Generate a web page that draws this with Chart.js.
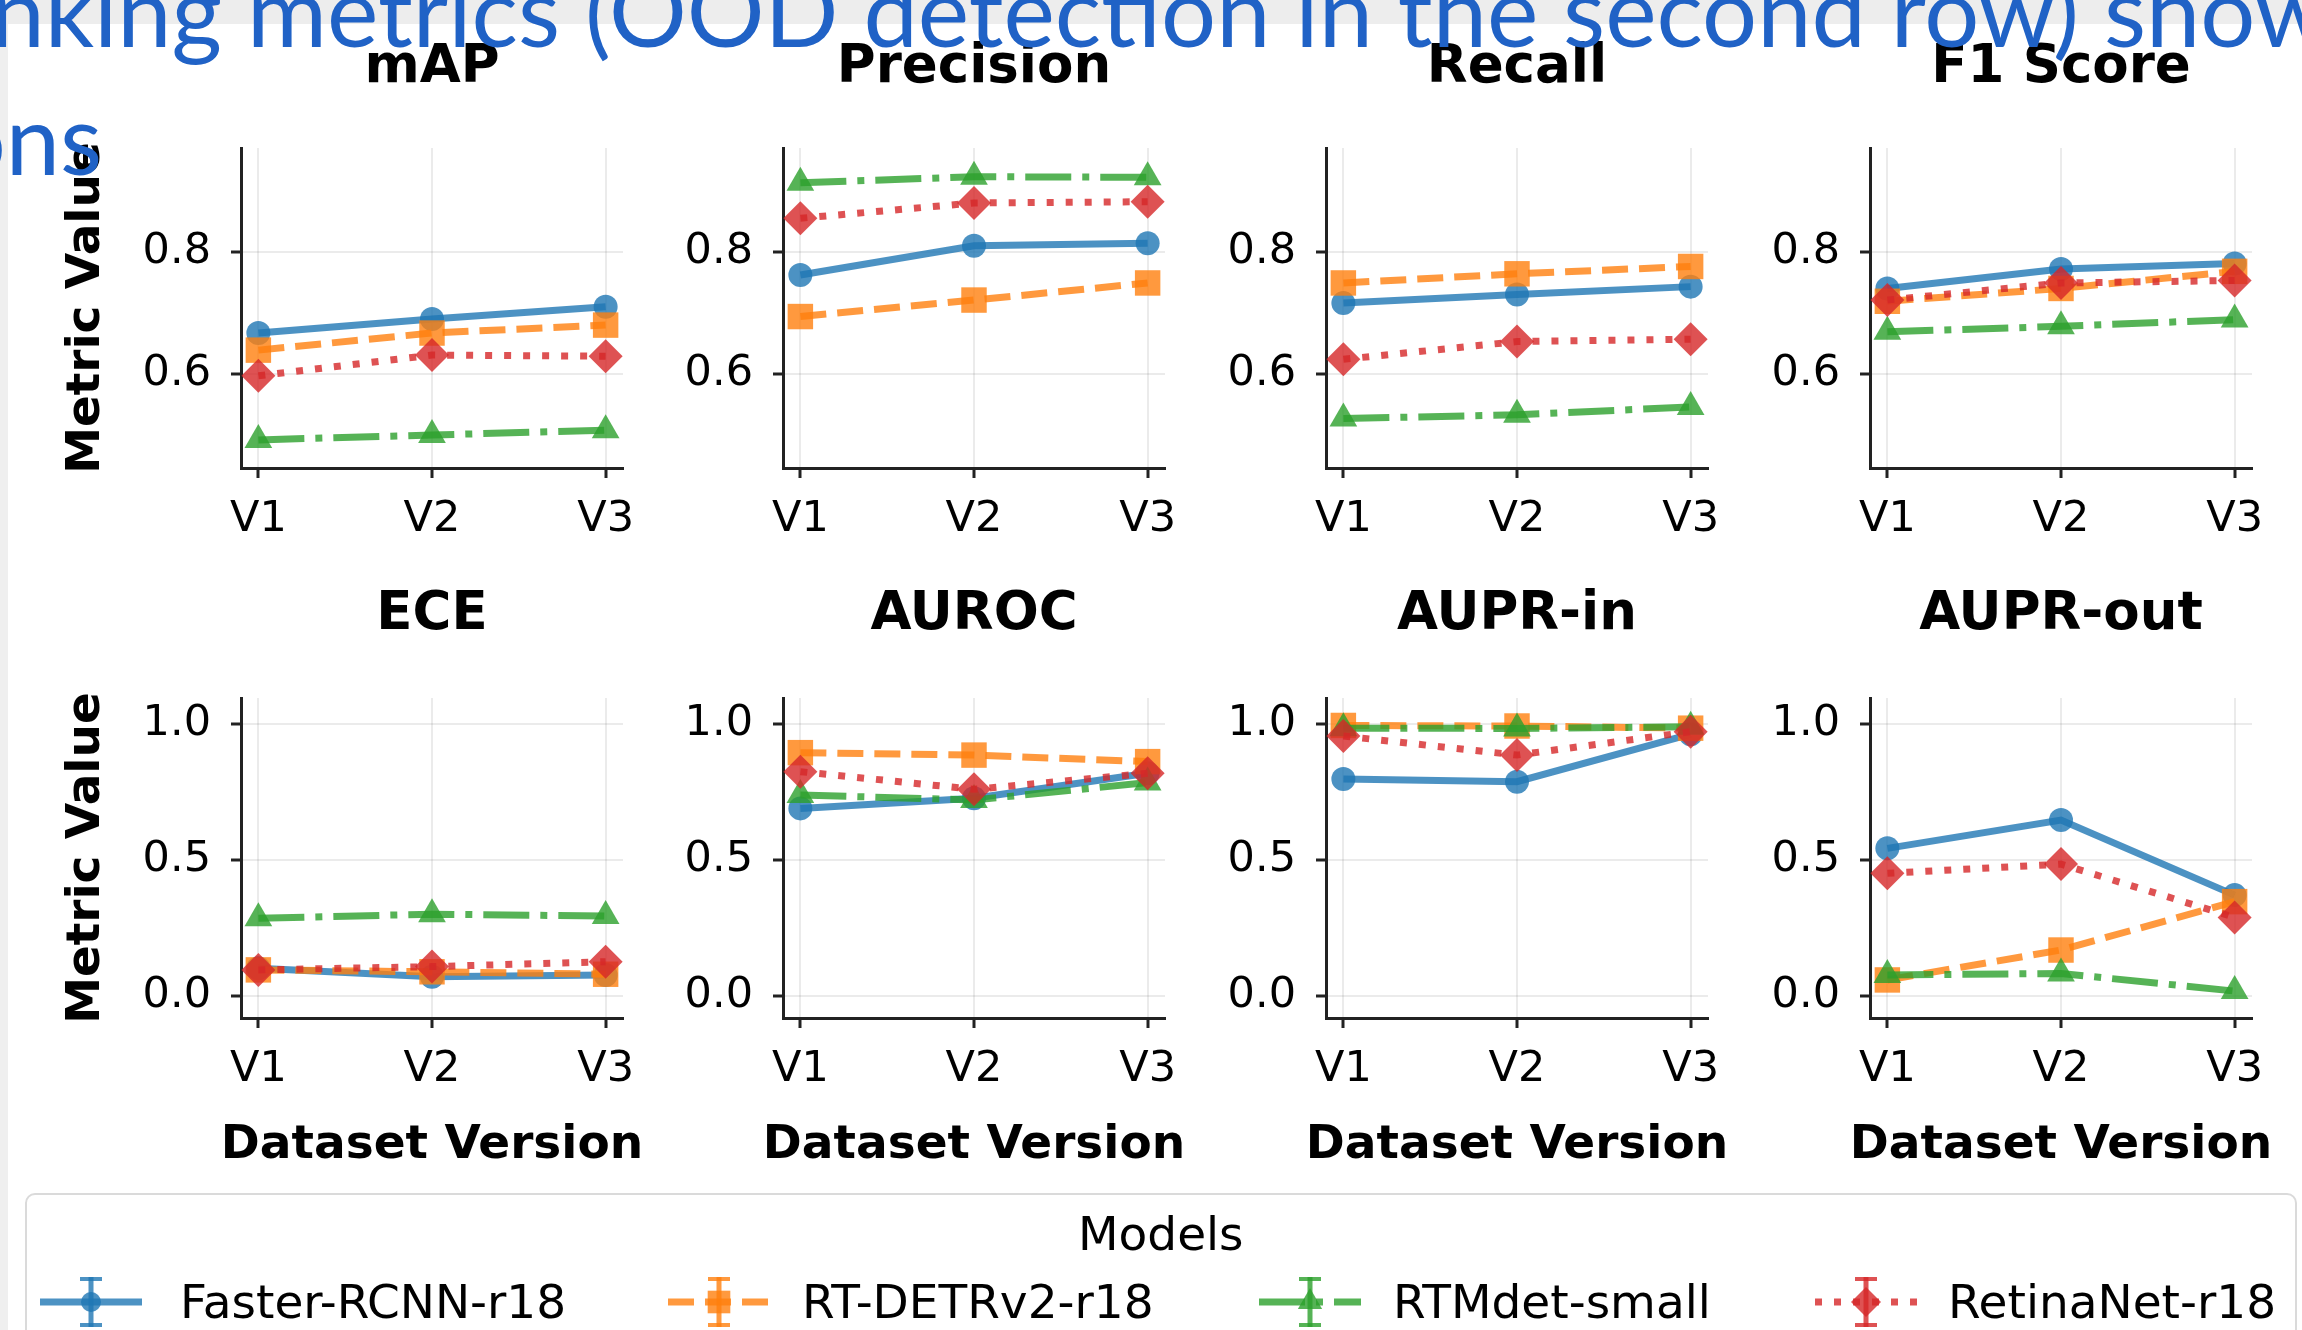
<!DOCTYPE html>
<html>
<head>
<meta charset="utf-8">
<script src="https://cdn.jsdelivr.net/npm/chart.js@4.4.0/dist/chart.umd.min.js"></script>
<style>
  html, body { margin: 0; padding: 0; background: #fff; }
  body { width: 2302px; height: 1330px; position: relative; overflow: hidden; }
  #band { position: absolute; left: 0; top: 0; width: 2302px; height: 24px; background: #ededed; }
  #strip { position: absolute; left: 0; top: 24px; width: 8px; height: 1306px; background: #efefef; }
  canvas.panel { position: absolute; }
  #legendBox { position: absolute; left: 25px; top: 1193px; width: 2272px; height: 200px;
               border: 2px solid #dadada; border-radius: 10px; box-sizing: border-box; background: #fff; }
  #legendCanvas { position: absolute; left: 0; top: 1180px; }
  .txt { position: absolute; white-space: pre; line-height: 1; }
  .slide { font-family: Lato, sans-serif; color: #2062c6; z-index: 10; }
  .leg { font-family: 'DejaVu Sans'; color: #000; z-index: 5; }
</style>
</head>
<body>
<div id="band"></div>
<div id="strip"></div>
<div id="legendBox"></div>
<canvas id="legendCanvas" width="2302" height="150"></canvas>
<script>
// ---- data ----
const versions = ['V1', 'V2', 'V3'];
const models = ['Faster-RCNN-r18', 'RT-DETRv2-r18', 'RTMdet-small', 'RetinaNet-r18'];
const metrics = ['mAP', 'Precision', 'Recall', 'F1 Score', 'ECE', 'AUROC', 'AUPR-in', 'AUPR-out'];

// values per metric, rows in model order
const mapVals       = [[0.667, 0.690, 0.710], [0.639, 0.667, 0.680], [0.492, 0.500, 0.508], [0.597, 0.631, 0.629]];
const precisionVals = [[0.762, 0.810, 0.814], [0.694, 0.721, 0.749], [0.913, 0.923, 0.922], [0.855, 0.880, 0.882]];
const recallVals    = [[0.716, 0.730, 0.743], [0.749, 0.764, 0.776], [0.527, 0.533, 0.546], [0.624, 0.653, 0.657]];
const f1Vals        = [[0.740, 0.772, 0.781], [0.719, 0.740, 0.768], [0.669, 0.678, 0.689], [0.721, 0.749, 0.753]];
const eceVals       = [[0.102, 0.071, 0.077], [0.096, 0.089, 0.080], [0.286, 0.301, 0.294], [0.096, 0.108, 0.126]];
const aurocVals     = [[0.690, 0.727, 0.819], [0.895, 0.886, 0.862], [0.739, 0.721, 0.785], [0.825, 0.760, 0.819]];
const auprInVals    = [[0.798, 0.788, 0.963], [0.995, 0.993, 0.985], [0.985, 0.984, 0.990], [0.956, 0.886, 0.972]];
const auprOutVals   = [[0.543, 0.647, 0.371], [0.059, 0.169, 0.347], [0.077, 0.083, 0.018], [0.451, 0.485, 0.289]];
const panelVals = [mapVals, precisionVals, recallVals, f1Vals, eceVals, aurocVals, auprInVals, auprOutVals];

const row1Ticks = [0.6, 0.8];
const row2Ticks = [0.0, 0.5, 1.0];

// ---- style ----
const rgb = [[31, 119, 180], [255, 127, 14], [44, 160, 44], [214, 39, 40]];
const col = (k, a) => `rgba(${rgb[k][0]},${rgb[k][1]},${rgb[k][2]},${a})`;
const LW_LINE = 7;
const dashes = [[], [26, 11], [46, 11, 7, 11], [7, 12]];
const markers = ['circle', 'rect', 'triangle', 'rectRot'];
const radii = [12, 18, 16, 17];

const AXIS_X = [241, 783, 1326, 1870];
const PLOT_TOP = [148, 698];
const PW = 382, PH = 320, TH = 138, RP = 30;
const Y_RANGE = [[0.446, 0.970], [-0.081, 1.096]];
const TITLE_PAD = [{ top: 26, bottom: 48.4 }, { top: 23, bottom: 51.4 }];

Chart.defaults.font.family = 'DejaVu Sans';
Chart.defaults.color = '#000';

// axis labels drawn without the max-width squeeze of scale titles
const axisLabels = {
  id: 'axisLabels',
  afterDraw(chart, args, opts) {
    const { ctx, chartArea: a } = chart;
    ctx.save();
    ctx.fillStyle = '#000';
    ctx.textAlign = 'center';
    ctx.textBaseline = 'alphabetic';
    ctx.font = 'bold 47px "DejaVu Sans"';
    if (opts.x) ctx.fillText(opts.x, (a.left + a.right) / 2, a.bottom + 140);
    if (opts.y) {
      ctx.translate(opts.yX, (a.top + a.bottom) / 2);
      ctx.rotate(-Math.PI / 2);
      ctx.fillText(opts.y, 0, 0);
    }
    ctx.restore();
  }
};

function makePanel(idx) {
  const c = idx % 4, r = Math.floor(idx / 4);
  const LW = c === 0 ? 235 : 140;
  const BW = r === 0 ? 80 : 160;
  const w = LW + PW + RP, h = TH + PH + BW;
  const cv = document.createElement('canvas');
  cv.className = 'panel';
  cv.width = w; cv.height = h;
  cv.style.width = w + 'px'; cv.style.height = h + 'px';
  cv.style.left = (AXIS_X[c] - LW) + 'px';
  cv.style.top = (PLOT_TOP[r] - TH) + 'px';
  document.body.appendChild(cv);

  const yTicks = r === 0 ? row1Ticks : row2Ticks;
  const vals = panelVals[idx];

  new Chart(cv, {
    type: 'line',
    data: {
      datasets: models.map((m, k) => ({
        label: m,
        data: vals[k].map((v, i) => ({ x: i, y: v })),
        borderColor: col(k, 0.8),
        backgroundColor: col(k, 0.8),
        borderWidth: LW_LINE,
        borderDash: dashes[k],
        pointStyle: markers[k],
        pointRadius: radii[k],
        pointHoverRadius: radii[k],
        pointBackgroundColor: col(k, 0.8),
        pointBorderWidth: 0,
        tension: 0,
        fill: false,
        clip: false,
        order: 3 - k
      }))
    },
    plugins: [axisLabels],
    options: {
      responsive: false,
      animation: false,
      devicePixelRatio: 1,
      events: [],
      layout: { padding: { top: 0, left: 0, right: RP, bottom: 0 } },
      plugins: {
        legend: { display: false },
        tooltip: { enabled: false },
        title: {
          display: true, text: metrics[idx], fullSize: false,
          font: { size: 53, weight: 'bold', lineHeight: 1.2 }, color: '#000',
          padding: TITLE_PAD[r]
        },
        axisLabels: {
          x: r === 1 ? 'Dataset Version' : '',
          y: c === 0 ? 'Metric Value' : '',
          yX: 93
        }
      },
      scales: {
        x: {
          type: 'linear', min: -0.1, max: 2.1,
          afterBuildTicks: s => { s.ticks = versions.map((_, i) => ({ value: i })); },
          afterFit: s => { s.height = BW; },
          ticks: { callback: v => versions[v], font: { size: 43 }, color: '#000', padding: 16, maxRotation: 0, autoSkip: false },
          grid: { color: 'rgba(0,0,0,0.08)', lineWidth: 2, tickLength: 10, tickColor: '#222', tickWidth: 3 },
          border: { display: true, color: '#222', width: 3 }
        },
        y: {
          type: 'linear', min: Y_RANGE[r][0], max: Y_RANGE[r][1],
          afterBuildTicks: s => { s.ticks = yTicks.map(v => ({ value: v })); },
          afterFit: s => { s.width = LW; },
          ticks: { callback: v => v.toFixed(1), font: { size: 43 }, color: '#000', padding: 20 },
          grid: { color: 'rgba(0,0,0,0.08)', lineWidth: 2, tickLength: 10, tickColor: '#222', tickWidth: 3 },
          border: { display: true, color: '#222', width: 3 }
        }
      }
    }
  });
}

for (let i = 0; i < metrics.length; i++) makePanel(i);

// ---- text helper: place DOM text by baseline ----
function placeText(str, cls, font, x, baseline, align) {
  const el = document.createElement('div');
  el.className = 'txt ' + cls;
  el.style.font = font;
  el.style.lineHeight = '1';
  el.textContent = str;
  const probe = document.createElement('span');
  probe.style.cssText = 'display:inline-block;width:0;height:0;vertical-align:baseline;';
  el.appendChild(probe);
  document.body.appendChild(el);
  const off = probe.offsetTop;
  el.style.top = (baseline - off) + 'px';
  const left = align === 'center' ? x - el.offsetWidth / 2 : x;
  el.style.left = left + 'px';
  return el;
}
function textWidth(str, font) {
  const s = document.createElement('span');
  s.style.cssText = 'position:absolute;white-space:pre;visibility:hidden;font:' + font;
  s.textContent = str;
  document.body.appendChild(s);
  const w = s.getBoundingClientRect().width;
  s.remove();
  return w;
}

// ---- slide title overlay: "(" sits at x=585, "show" starts at x=2104 ----
function drawSlideText() {
  const mid = '(OOD detection in the second row) ';
  const fs = 100 * 1519 / textWidth(mid, '100px Lato');
  const slideFont = fs + 'px Lato';
  placeText('nking metrics ' + mid + 'shows', 'slide', slideFont, 585 - textWidth('nking metrics ', slideFont), 47, 'left');
  placeText('ons', 'slide', slideFont, 60 - textWidth('on', slideFont), 175, 'left');
}
document.fonts.load('100px Lato').then(drawSlideText, drawSlideText);

// ---- legend ----
const legFont = '47px "DejaVu Sans"';
placeText('Models', 'leg', legFont, 1161, 1250, 'center');
const legX = [40, 668, 1259, 1815];
const legTextX = [180, 802, 1393, 1948];
const lc = document.getElementById('legendCanvas').getContext('2d');
const oy = 1180, ly = 1302;
models.forEach((m, k) => {
  const x0 = legX[k], x1 = x0 + 102, xc = (x0 + x1) / 2;
  lc.save();
  lc.strokeStyle = col(k, 0.8);
  lc.fillStyle = col(k, 0.8);
  // sample line
  lc.lineWidth = LW_LINE;
  lc.setLineDash(dashes[k]);
  lc.beginPath(); lc.moveTo(x0, ly - oy); lc.lineTo(x1, ly - oy); lc.stroke();
  lc.setLineDash([]);
  // error bar with caps
  lc.lineWidth = 5;
  lc.beginPath(); lc.moveTo(xc, 1277 - oy); lc.lineTo(xc, 1327 - oy); lc.stroke();
  lc.lineWidth = 4;
  lc.beginPath();
  lc.moveTo(xc - 11, 1279 - oy); lc.lineTo(xc + 11, 1279 - oy);
  lc.moveTo(xc - 11, 1325 - oy); lc.lineTo(xc + 11, 1325 - oy);
  lc.stroke();
  // marker
  if (Chart.helpers && Chart.helpers.drawPoint) {
    Chart.helpers.drawPoint(lc, { pointStyle: markers[k], radius: radii[k] - 2, rotation: 0, borderWidth: 0 }, xc, ly - oy);
  }
  lc.restore();
  placeText(m, 'leg', legFont, legTextX[k], 1318, 'left');
});
</script>
</body>
</html>
